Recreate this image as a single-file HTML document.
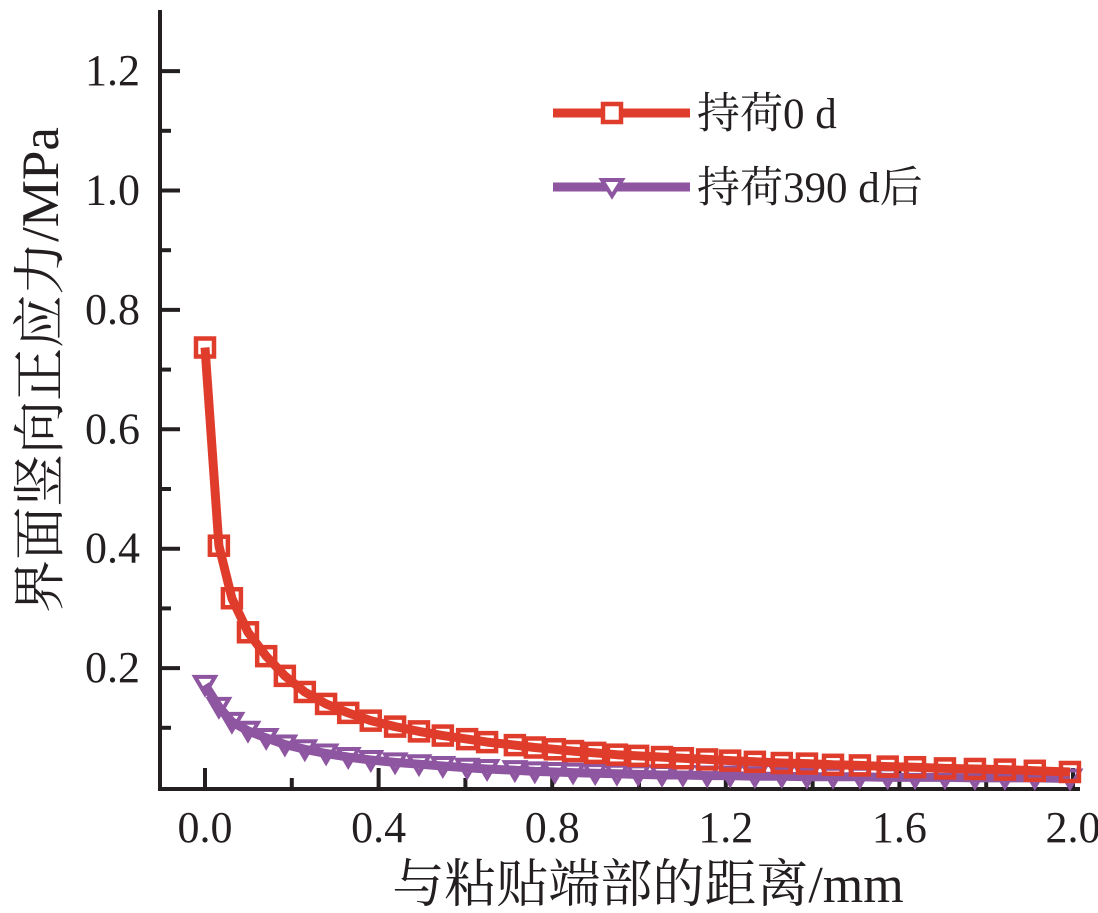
<!DOCTYPE html>
<html><head><meta charset="utf-8">
<style>
html,body{margin:0;padding:0;background:#fff;}
svg{display:block;}
text{font-family:"Liberation Serif","Noto Serif CJK SC",serif;fill:#231f20;}
</style></head>
<body>
<svg id="chart" width="1098" height="913" viewBox="0 0 1098 913"></svg>
<script>
const xValues = [0,0.032,0.062,0.099,0.141,0.184,0.230,0.279,0.330,0.382,0.438,0.493,0.548,0.604,0.650,0.714,0.760,0.806,0.848,0.899,0.949,0.998,1.053,1.101,1.157,1.210,1.267,1.329,1.387,1.447,1.509,1.573,1.636,1.705,1.774,1.843,1.912,1.993];
const series0d = [0.737,0.405,0.317,0.26,0.22,0.187,0.16,0.14,0.125,0.112,0.102,0.094,0.087,0.081,0.076,0.071,0.067,0.064,0.061,0.058,0.055,0.053,0.051,0.049,0.047,0.045,0.043,0.041,0.040,0.038,0.037,0.035,0.034,0.032,0.031,0.030,0.028,0.026];
const series390d = [0.172,0.135,0.11,0.095,0.083,0.072,0.064,0.057,0.051,0.046,0.042,0.039,0.036,0.033,0.031,0.029,0.027,0.026,0.025,0.024,0.023,0.022,0.021,0.021,0.020,0.020,0.019,0.019,0.018,0.018,0.018,0.017,0.017,0.017,0.016,0.016,0.016,0.015];
const xTicks = [0.0,0.4,0.8,1.2,1.6,2.0];
const xTickLabels = ["0.0","0.4","0.8","1.2","1.6","2.0"];
const yTicks = [0.2,0.4,0.6,0.8,1.0,1.2];
const yTickLabels = ["0.2","0.4","0.6","0.8","1.0","1.2"];

const NS="http://www.w3.org/2000/svg";
const svg=document.getElementById('chart');
const X=v=>205+v*434;
const Y=v=>787.5-v*597;
function mk(tag,attrs,parent){const e=document.createElementNS(NS,tag);for(const k in attrs)e.setAttribute(k,attrs[k]);(parent||svg).appendChild(e);return e;}

const ax=mk('path',{d:`M160 10 L160 789 L1080 789`,fill:'none',stroke:'#231f20','stroke-width':4});


for(let i=1;i<=12;i++){const v=i*0.1;const major=i%2===0;
 const t=mk('line',{x1:160,x2:major?180:171,y1:Y(v),y2:Y(v),stroke:'#231f20','stroke-width':4});
 
 }
yTicks.forEach((v,i)=>{const t=mk('text',{x:140,y:Y(v)+14,'text-anchor':'end','font-size':44});t.textContent=yTickLabels[i];
 
 });
for(let i=0;i<=10;i++){const v=i*0.2;const major=i%2===0;
 const t=mk('line',{x1:X(v),x2:X(v),y1:789,y2:major?768:778,stroke:'#231f20','stroke-width':4});
 
 }
xTicks.forEach((v,i)=>{const t=mk('text',{x:X(v),y:842,'text-anchor':'middle','font-size':44});t.textContent=xTickLabels[i];
 
 });

function drawSeries(vals,color,marker,name){
 const g=mk('g',{});
 
 
 const d=vals.map((v,i)=>(i?'L':'M')+X(xValues[i]).toFixed(1)+' '+Y(v).toFixed(1)).join(' ');
 mk('path',{d,fill:'none',stroke:color,'stroke-width':9,'stroke-linejoin':'round'},g);
 vals.forEach((v,i)=>{const cx=X(xValues[i]),cy=Y(v);let m;
  if(marker==='square') m=mk('rect',{x:cx-9,y:cy-9,width:18,height:18,fill:'none',stroke:color,'stroke-width':4.5},g);
  else m=mk('path',{d:`M${cx-10} ${cy-8} L${cx+10} ${cy-8} L${cx} ${cy+9} Z`,fill:'none',stroke:color,'stroke-width':4},g);
  
  });
}
drawSeries(series390d,'#8e56a0','tri','series-390d');
drawSeries(series0d,'#e03c2c','square','series-0d');

const lg=mk('g',{});


mk('line',{x1:553,x2:690,y1:113,y2:113,stroke:'#e03c2c','stroke-width':9},lg);
mk('rect',{x:603,y:104,width:18,height:18,fill:'#fff',stroke:'#e03c2c','stroke-width':4.5},lg);
const l1=mk('text',{x:697,y:128,'font-size':43},lg);l1.textContent='持荷0 d';


mk('line',{x1:553,x2:690,y1:187,y2:187,stroke:'#8e56a0','stroke-width':9},lg);
mk('path',{d:'M602 180 L622 180 L612 196 Z',fill:'#fff',stroke:'#8e56a0','stroke-width':4},lg);
const l2=mk('text',{x:697,y:202,'font-size':43},lg);l2.textContent='持荷390 d后';



const xt=mk('text',{x:648,y:902,'text-anchor':'middle','font-size':52});xt.textContent='与粘贴端部的距离/mm';


const yt=mk('text',{x:0,y:0,'text-anchor':'middle','font-size':53,transform:'translate(58,370) rotate(-90)'});yt.textContent='界面竖向正应力/MPa';


</script>
</body></html>
